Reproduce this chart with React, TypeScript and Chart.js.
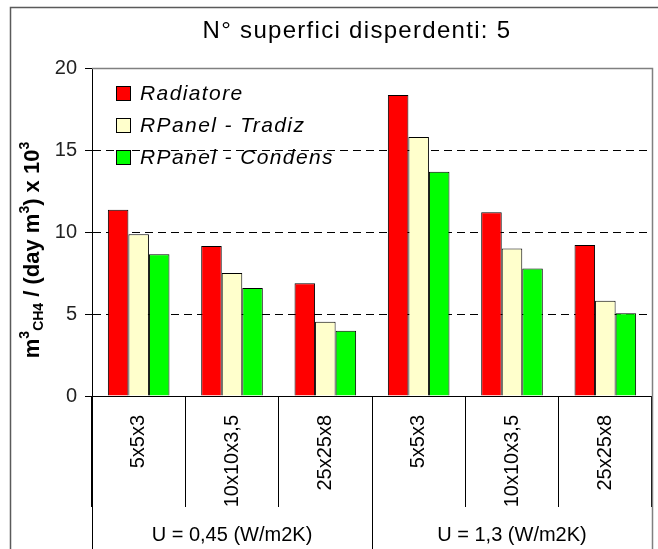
import React, { useEffect, useRef } from "react";
import { Chart, registerables } from "chart.js";

Chart.register(...registerables);

const FONT = '"Liberation Sans", Arial, Helvetica, sans-serif';

const TITLE = "N° superfici disperdenti: 5";
const CATEGORIES = ["5x5x3", "10x10x3,5", "25x25x8", "5x5x3", "10x10x3,5", "25x25x8"];
const GROUP_LABELS = ["U = 0,45 (W/m2K)", "U = 1,3 (W/m2K)"];
const GROUP_SIZES = [3, 3];
const SERIES_NAMES = ["Radiatore", "RPanel - Tradiz", "RPanel - Condens"];
const SERIES_COLORS = ["#FF0000", "#FFFFCC", "#00FF00"];
const RADIATORE = [11.35, 9.15, 6.87, 18.35, 11.2, 9.2];
const RPANEL_TRADIZ = [9.86, 7.5, 4.53, 15.8, 9.0, 5.81];
const RPANEL_CONDENS = [8.64, 6.59, 3.98, 13.68, 7.78, 5.04];
const Y_MIN = 0;
const Y_MAX = 20;
const Y_STEP = 5;
const Y_TITLE_PARTS: { t: string; k: "n" | "sup" | "sub" }[] = [
  { t: "m", k: "n" },
  { t: "3", k: "sup" },
  { t: "CH4", k: "sub" },
  { t: " / (day m", k: "n" },
  { t: "3", k: "sup" },
  { t: ") x 10", k: "n" },
  { t: "3", k: "sup" },
];

const decorPlugin = {
  id: "decor",
  afterDraw(chart: any) {
    const ctx = chart.ctx as CanvasRenderingContext2D;
    const xs = chart.scales.x;
    const area = chart.chartArea;
    const H = chart.height;
    ctx.save();

    // outer frame
    ctx.strokeStyle = "#5a5a5a";
    ctx.lineWidth = 1.5;
    ctx.beginPath();
    ctx.moveTo(10.5, H + 5);
    ctx.lineTo(10.5, 7.5);
    ctx.lineTo(chart.width + 5, 7.5);
    ctx.stroke();

    // plot frame (top + right) in grey
    ctx.strokeStyle = "#808080";
    ctx.lineWidth = 1.5;
    ctx.beginPath();
    ctx.moveTo(area.left, area.top + 0.5);
    ctx.lineTo(area.right + 0.5, area.top + 0.5);
    ctx.lineTo(area.right + 0.5, H);
    ctx.stroke();

    // long separators: left axis and between groups
    ctx.strokeStyle = "#000";
    ctx.lineWidth = 1;
    let idx = 0;
    const bounds: number[] = [xs.left];
    GROUP_SIZES.forEach((n) => {
      idx += n;
      if (idx < CATEGORIES.length) {
        bounds.push((xs.getPixelForValue(idx - 1) + xs.getPixelForValue(idx)) / 2);
      } else {
        bounds.push(xs.right);
      }
    });
    bounds.slice(0, -1).forEach((bx) => {
      const px = Math.round(bx) + 0.5;
      ctx.beginPath();
      ctx.moveTo(px, area.bottom);
      ctx.lineTo(px, H);
      ctx.stroke();
    });

    // group labels
    ctx.fillStyle = "#000";
    ctx.font = `20px ${FONT}`;
    ctx.textAlign = "center";
    ctx.textBaseline = "middle";
    GROUP_LABELS.forEach((g, i) => {
      ctx.fillText(g, (bounds[i] + bounds[i + 1]) / 2, 535);
    });

    // title
    (ctx as any).letterSpacing = "1.3px";
    ctx.font = `24px ${FONT}`;
    ctx.fillStyle = "#000";
    ctx.fillText(TITLE, 357, 31);
    (ctx as any).letterSpacing = "0px";

    // legend
    ctx.textAlign = "left";
    chart.data.datasets.forEach((ds: any, i: number) => {
      const cy = 93 + i * 32;
      ctx.fillStyle = ds.backgroundColor;
      ctx.fillRect(116.5, cy - 6.5, 14, 14);
      ctx.strokeStyle = "#000";
      ctx.lineWidth = 1;
      ctx.strokeRect(116.5, cy - 6.5, 14, 14);
      ctx.fillStyle = "#000";
      (ctx as any).letterSpacing = "1.4px";
      ctx.font = `italic 21px ${FONT}`;
      ctx.fillText(ds.label, 140, cy + 1);
      (ctx as any).letterSpacing = "0px";
    });

    // y-axis title with super/subscripts
    ctx.translate(39, 250);
    ctx.rotate(-Math.PI / 2);
    ctx.textBaseline = "alphabetic";
    ctx.fillStyle = "#000";
    const fontFor = (k: string) => (k === "n" ? `bold 22px ${FONT}` : `bold 14px ${FONT}`);
    let total = 0;
    Y_TITLE_PARTS.forEach((p) => {
      ctx.font = fontFor(p.k);
      total += ctx.measureText(p.t).width;
    });
    let x = -total / 2;
    Y_TITLE_PARTS.forEach((p) => {
      ctx.font = fontFor(p.k);
      const dy = p.k === "sup" ? -10 : p.k === "sub" ? 4 : 0;
      ctx.fillText(p.t, x, dy);
      x += ctx.measureText(p.t).width;
    });

    ctx.restore();
  },
};

export default function App() {
  const ref = useRef<HTMLCanvasElement>(null);
  useEffect(() => {
    const canvas = ref.current!;
    const chart = new Chart(canvas, {
      type: "bar",
      data: {
        labels: CATEGORIES,
        datasets: [
          { label: SERIES_NAMES[0], data: RADIATORE, backgroundColor: SERIES_COLORS[0] },
          { label: SERIES_NAMES[1], data: RPANEL_TRADIZ, backgroundColor: SERIES_COLORS[1] },
          { label: SERIES_NAMES[2], data: RPANEL_CONDENS, backgroundColor: SERIES_COLORS[2] },
        ].map((d) => ({
          ...d,
          borderColor: "#000",
          borderWidth: 1,
          categoryPercentage: 0.66,
          barPercentage: 1.0,
        })),
      },
      options: {
        responsive: false,
        animation: false,
        layout: { padding: { top: 68, right: 6, left: 0, bottom: 0 } },
        plugins: {
          legend: { display: false },
          title: { display: false },
          tooltip: { enabled: false },
        },
        scales: {
          x: {
            type: "category",
            offset: true,
            afterFit: (s: any) => {
              s.height = 153;
            },
            grid: {
              display: true,
              offset: true,
              drawOnChartArea: false,
              drawTicks: true,
              tickLength: 111,
              color: "#000",
              tickColor: "#000",
            },
            border: { display: true, color: "#000", width: 1 },
            ticks: {
              minRotation: 90,
              maxRotation: 90,
              autoSkip: false,
              padding: -92,
              color: "#000",
              font: { family: FONT, size: 20 },
            },
          },
          y: {
            min: Y_MIN,
            max: Y_MAX,
            afterFit: (s: any) => {
              s.width = 92;
            },
            ticks: {
              stepSize: Y_STEP,
              padding: 8,
              color: "#222",
              font: { family: FONT, size: 20 },
            },
            grid: {
              drawTicks: true,
              tickLength: 7,
              color: (c: any) =>
                c.tick && c.tick.value > Y_MIN && c.tick.value < Y_MAX ? "#000" : "rgba(0,0,0,0)",
              tickColor: "#000",
              tickBorderDash: [],
            },
            border: { display: true, color: "#000", width: 1, dash: [8, 5] },
          },
        },
      },
      plugins: [decorPlugin],
    } as any);
    return () => chart.destroy();
  }, []);
  return (
    <div style={{ position: "fixed", left: 0, top: 0, width: 658, height: 549, background: "#fff" }}>
      <canvas ref={ref} width={658} height={549} style={{ display: "block" }} />
    </div>
  );
}
